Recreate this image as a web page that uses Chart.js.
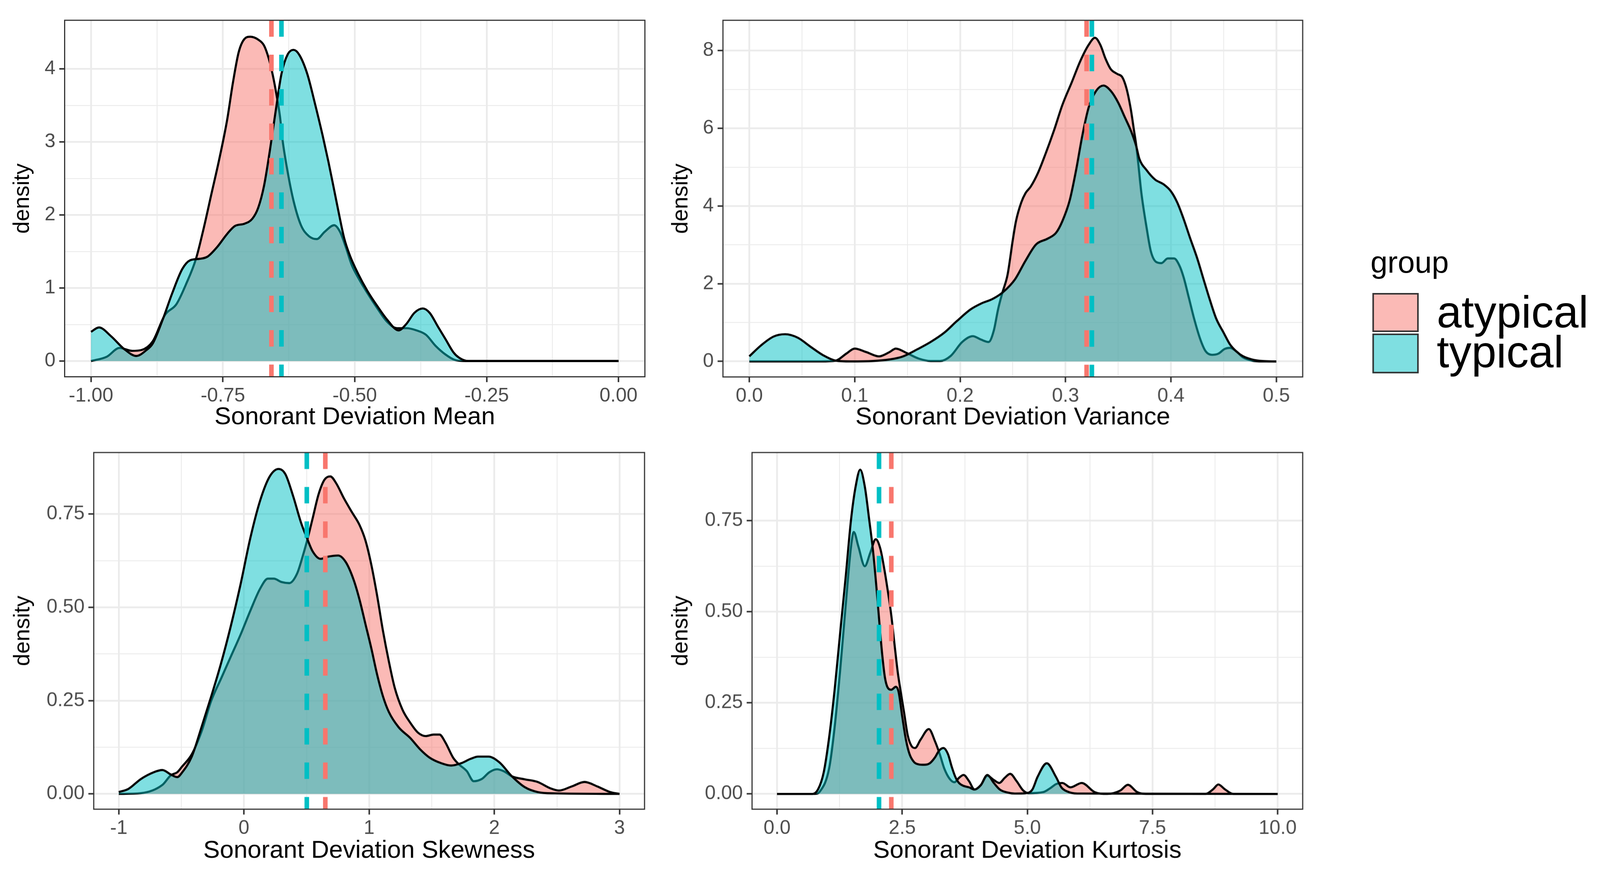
<!DOCTYPE html>
<html>
<head>
<meta charset="utf-8">
<script src="https://cdn.jsdelivr.net/npm/chart.js@4.4.1/dist/chart.umd.min.js"></script>
<style>
  html, body { margin: 0; background: #fff; overflow: hidden; }
  body { font-family: 'Liberation Sans', Arial, sans-serif; }
  #stage { position: absolute; left: 0; top: 0; width: 4183px; height: 2286px; transform-origin: 0 0; }
  canvas { position: absolute; }
  .lg { position: absolute; line-height: 1; white-space: nowrap; color: #000; }
  .key { position: absolute; border: 4px solid #333; box-sizing: border-box; }
</style>
</head>
<body>
<div id="stage">
  <canvas id="pMean" width="1730" height="1130" style="left:0;top:0"></canvas>
  <canvas id="pVar" width="1700" height="1130" style="left:1740px;top:0"></canvas>
  <canvas id="pSkew" width="1730" height="1130" style="left:0;top:1140px"></canvas>
  <canvas id="pKurt" width="1700" height="1130" style="left:1740px;top:1140px"></canvas>

  <div class="lg" style="left:3583px;top:646px;font-size:80px">group</div>
  <div class="key" style="left:3588px;top:766px;width:121px;height:102px;background:rgba(248,118,109,0.5)"></div>
  <div class="key" style="left:3588px;top:872px;width:121px;height:104px;background:rgba(0,191,196,0.5)"></div>
  <div class="lg" style="left:3756px;top:757px;font-size:117px">atypical</div>
  <div class="lg" style="left:3756px;top:861px;font-size:117px">typical</div>
</div>

<script>
// Sonorant Deviation Mean
const meanAtypX = [-1.000, -0.970, -0.946, -0.922, -0.905, -0.883, -0.860, -0.838, -0.820, -0.801, -0.786, -0.772, -0.757,
  -0.742, -0.731, -0.720, -0.709, -0.698, -0.683, -0.672, -0.663, -0.655, -0.648, -0.642, -0.637, -0.627, -0.616, -0.602,
  -0.587, -0.572, -0.557, -0.539, -0.528, -0.517, -0.506, -0.491, -0.476, -0.457, -0.439, -0.420, -0.402, -0.383, -0.365,
  -0.347, -0.328, -0.310, -0.290, 0.000];
const meanAtypY = [0.0, 0.06, 0.18, 0.14, 0.15, 0.27, 0.63, 0.78, 1.05, 1.40, 1.83, 2.28, 2.76,
  3.30, 3.81, 4.23, 4.41, 4.44, 4.40, 4.32, 4.14, 3.90, 3.63, 3.36, 3.03, 2.58, 2.19, 1.86,
  1.71, 1.67, 1.77, 1.86, 1.77, 1.56, 1.32, 1.11, 0.93, 0.72, 0.54, 0.45, 0.45, 0.42, 0.36,
  0.21, 0.09, 0.015, 0.0, 0.0];
const meanTypX = [-1.000, -0.985, -0.962, -0.938, -0.914, -0.895, -0.883, -0.864, -0.846, -0.827, -0.812, -0.794, -0.779,
  -0.761, -0.742, -0.727, -0.709, -0.694, -0.683, -0.672, -0.661, -0.650, -0.639, -0.627, -0.616, -0.605, -0.590, -0.576,
  -0.561, -0.550, -0.539, -0.529, -0.520, -0.509, -0.494, -0.476, -0.457, -0.439, -0.417, -0.402, -0.387, -0.371, -0.358,
  -0.343, -0.328, -0.313, -0.303, -0.285, 0.000];
const meanTypY = [0.40, 0.46, 0.34, 0.17, 0.07, 0.15, 0.24, 0.57, 0.93, 1.26, 1.38, 1.40, 1.43,
  1.56, 1.74, 1.85, 1.88, 1.95, 2.10, 2.40, 2.88, 3.42, 3.93, 4.20, 4.26, 4.19, 3.93, 3.54,
  3.09, 2.73, 2.34, 1.98, 1.68, 1.44, 1.20, 0.96, 0.75, 0.57, 0.42, 0.51, 0.66, 0.72, 0.66,
  0.48, 0.30, 0.12, 0.05, 0.0, 0.0];
const meanMeans = [-0.658, -0.639]; // atypical, typical
const meanXTicks = [-1, -0.75, -0.5, -0.25, 0];
const meanXLabels = ['-1.00', '-0.75', '-0.50', '-0.25', '0.00'];
const meanYTicks = [0, 1, 2, 3, 4];
const meanYLabels = ['0', '1', '2', '3', '4'];

// Sonorant Deviation Variance
const varAtypX = [0.000, 0.068, 0.082, 0.092, 0.100, 0.111, 0.123, 0.133, 0.139, 0.149, 0.161, 0.172, 0.181,
  0.191, 0.202, 0.212, 0.220, 0.227, 0.232, 0.236, 0.240, 0.245, 0.250, 0.253, 0.258, 0.262, 0.267, 0.274,
  0.281, 0.289, 0.297, 0.306, 0.314, 0.322, 0.328, 0.333, 0.338, 0.343, 0.349, 0.354, 0.358, 0.362, 0.365,
  0.367, 0.369, 0.372, 0.377, 0.381, 0.386, 0.391, 0.397, 0.403, 0.408, 0.412, 0.417, 0.422, 0.428, 0.433,
  0.439, 0.445, 0.451, 0.456, 0.462, 0.468, 0.477, 0.487, 0.500];
const varAtypY = [0.0, 0.0, 0.02, 0.20, 0.33, 0.24, 0.13, 0.24, 0.33, 0.22, 0.07, 0.01, 0.01,
  0.14, 0.50, 0.65, 0.56, 0.50, 0.80, 1.34, 1.76, 2.23, 3.13, 3.61, 4.09, 4.33, 4.50, 4.86,
  5.34, 5.94, 6.60, 7.19, 7.73, 8.15, 8.33, 8.15, 7.79, 7.52, 7.40, 7.31, 7.01, 6.48, 5.94,
  5.58, 5.10, 4.33, 3.43, 2.83, 2.56, 2.53, 2.65, 2.65, 2.47, 2.17, 1.64, 1.10, 0.56, 0.26,
  0.17, 0.20, 0.32, 0.35, 0.26, 0.11, 0.02, 0.0, 0.0];
const varTypX = [0.000, 0.011, 0.023, 0.034, 0.046, 0.058, 0.070, 0.082, 0.096, 0.117, 0.133, 0.145, 0.160,
  0.172, 0.185, 0.197, 0.210, 0.220, 0.231, 0.241, 0.252, 0.262, 0.272, 0.283, 0.291, 0.297, 0.304, 0.310,
  0.316, 0.322, 0.329, 0.336, 0.343, 0.350, 0.356, 0.362, 0.367, 0.370, 0.377, 0.385, 0.393, 0.400, 0.406,
  0.412, 0.418, 0.425, 0.431, 0.437, 0.443, 0.450, 0.456, 0.462, 0.468, 0.477, 0.487, 0.500];
const varTypY = [0.13, 0.41, 0.64, 0.70, 0.61, 0.38, 0.16, 0.02, 0.0, 0.01, 0.05, 0.12, 0.32,
  0.50, 0.74, 1.04, 1.34, 1.49, 1.61, 1.79, 2.11, 2.59, 3.01, 3.16, 3.31, 3.61, 4.15, 4.92,
  5.82, 6.54, 6.96, 7.10, 6.96, 6.66, 6.30, 5.94, 5.55, 5.22, 4.92, 4.68, 4.56, 4.38, 4.09,
  3.67, 3.19, 2.65, 2.11, 1.58, 1.10, 0.74, 0.44, 0.26, 0.14, 0.05, 0.01, 0.0];
const varMeans = [0.320, 0.325];
const varXTicks = [0, 0.1, 0.2, 0.3, 0.4, 0.5];
const varXLabels = ['0.0', '0.1', '0.2', '0.3', '0.4', '0.5'];
const varYTicks = [0, 2, 4, 6, 8];
const varYLabels = ['0', '2', '4', '6', '8'];

// Sonorant Deviation Skewness
const skewAtypX = [-1.000, -0.823, -0.652, -0.584, -0.533, -0.495, -0.417, -0.339, -0.261, -0.183, -0.105, -0.027, 0.051,
  0.129, 0.191, 0.238, 0.300, 0.362, 0.425, 0.471, 0.510, 0.549, 0.596, 0.643, 0.690, 0.736, 0.799, 0.861,
  0.923, 0.970, 1.017, 1.063, 1.110, 1.157, 1.204, 1.266, 1.328, 1.391, 1.453, 1.515, 1.562, 1.609, 1.671,
  1.718, 1.780, 1.835, 1.900, 1.960, 2.020, 2.080, 2.141, 2.244, 2.346, 2.448, 2.516, 2.618, 2.721, 2.823,
  2.925, 3.000];
const skewAtypY = [0.0, 0.002, 0.024, 0.050, 0.058, 0.073, 0.106, 0.167, 0.250, 0.309, 0.368, 0.427, 0.491,
  0.550, 0.577, 0.577, 0.568, 0.565, 0.591, 0.639, 0.686, 0.739, 0.803, 0.842, 0.851, 0.833, 0.792, 0.756,
  0.721, 0.680, 0.615, 0.533, 0.438, 0.356, 0.285, 0.226, 0.191, 0.164, 0.155, 0.159, 0.159, 0.138, 0.097,
  0.079, 0.061, 0.034, 0.040, 0.058, 0.066, 0.060, 0.047, 0.039, 0.032, 0.015, 0.009, 0.020, 0.032, 0.020,
  0.005, 0.0];
const skewTypX = [-1.000, -0.925, -0.823, -0.721, -0.652, -0.584, -0.533, -0.495, -0.417, -0.339, -0.261, -0.183, -0.105,
  -0.027, 0.051, 0.129, 0.206, 0.277, 0.331, 0.393, 0.456, 0.503, 0.549, 0.612, 0.674, 0.752, 0.814, 0.876,
  0.923, 0.970, 1.017, 1.063, 1.110, 1.157, 1.235, 1.328, 1.406, 1.484, 1.578, 1.655, 1.733, 1.811, 1.870,
  1.954, 2.039, 2.141, 2.244, 2.346, 2.482, 3.000];
const skewTypY = [0.005, 0.013, 0.040, 0.058, 0.064, 0.052, 0.045, 0.057, 0.100, 0.179, 0.262, 0.350, 0.450,
  0.562, 0.686, 0.786, 0.851, 0.871, 0.857, 0.798, 0.727, 0.686, 0.650, 0.630, 0.636, 0.639, 0.621, 0.574,
  0.521, 0.456, 0.391, 0.321, 0.262, 0.220, 0.179, 0.150, 0.120, 0.097, 0.082, 0.076, 0.082, 0.094, 0.100,
  0.100, 0.085, 0.047, 0.018, 0.005, 0.0015, 0.0];
const skewMeans = [0.650, 0.502];
const skewXTicks = [-1, 0, 1, 2, 3];
const skewXLabels = ['-1', '0', '1', '2', '3'];
const skewYTicks = [0, 0.25, 0.5, 0.75];
const skewYLabels = ['0.00', '0.25', '0.50', '0.75'];

// Sonorant Deviation Kurtosis
const kurtAtypX = [0.000, 0.750, 0.857, 1.040, 1.150, 1.259, 1.369, 1.478, 1.533, 1.624, 1.752, 1.862, 1.971,
  2.063, 2.136, 2.209, 2.282, 2.355, 2.410, 2.465, 2.538, 2.610, 2.684, 2.757, 2.867, 3.031, 3.159, 3.250,
  3.342, 3.450, 3.543, 3.634, 3.725, 3.835, 3.945, 4.070, 4.200, 4.330, 4.440, 4.548, 4.657, 4.785, 4.913,
  5.020, 5.320, 5.450, 5.575, 5.700, 5.860, 6.087, 6.343, 6.598, 6.854, 7.008, 7.195, 7.366, 8.559, 8.713,
  8.815, 8.943, 9.113, 10.000];
const kurtAtypY = [0, 0, 0.007, 0.070, 0.183, 0.337, 0.514, 0.679, 0.719, 0.679, 0.625, 0.662, 0.699,
  0.673, 0.622, 0.560, 0.490, 0.400, 0.335, 0.285, 0.223, 0.161, 0.132, 0.126, 0.149, 0.178, 0.143, 0.109,
  0.069, 0.041, 0.032, 0.044, 0.052, 0.035, 0.012, 0.024, 0.050, 0.038, 0.030, 0.044, 0.055, 0.035, 0.010,
  0.002, 0.005, 0.015, 0.027, 0.030, 0.018, 0.030, 0.005, 0.0, 0.009, 0.025, 0.005, 0.0, 0.0, 0.013,
  0.026, 0.013, 0.0, 0];
const kurtTypX = [0.000, 0.711, 0.820, 0.930, 1.040, 1.150, 1.259, 1.369, 1.478, 1.570, 1.660, 1.752, 1.840,
  1.917, 1.990, 2.045, 2.100, 2.154, 2.209, 2.282, 2.373, 2.428, 2.501, 2.574, 2.647, 2.739, 2.830, 2.940,
  3.050, 3.159, 3.232, 3.323, 3.415, 3.488, 3.560, 3.634, 3.725, 3.835, 3.945, 4.070, 4.200, 4.330, 4.450,
  4.600, 4.750, 4.970, 5.100, 5.205, 5.388, 5.570, 5.680, 5.790, 6.000, 10.000];
const kurtTypY = [0, 0, 0.013, 0.058, 0.155, 0.286, 0.440, 0.593, 0.753, 0.844, 0.890, 0.844, 0.753,
  0.667, 0.559, 0.468, 0.383, 0.320, 0.292, 0.286, 0.294, 0.280, 0.212, 0.149, 0.109, 0.087, 0.081, 0.080,
  0.084, 0.101, 0.118, 0.126, 0.109, 0.075, 0.047, 0.030, 0.022, 0.018, 0.012, 0.024, 0.052, 0.030, 0.012,
  0.004, 0.001, 0.002, 0.012, 0.047, 0.084, 0.047, 0.018, 0.007, 0.001, 0];
const kurtMeans = [2.282, 2.037];
const kurtXTicks = [0, 2.5, 5, 7.5, 10];
const kurtXLabels = ['0.0', '2.5', '5.0', '7.5', '10.0'];
const kurtYTicks = [0, 0.25, 0.5, 0.75];
const kurtYLabels = ['0.00', '0.25', '0.50', '0.75'];

const ATYP_FILL = 'rgba(248,118,109,0.5)';
const TYP_FILL = 'rgba(0,191,196,0.5)';
const ATYP_LINE = '#F8766D';
const TYP_LINE = '#00BFC4';

// the layout is drawn on a 4183 wide stage; fit it to whatever viewport we really get
const SCALE = (document.documentElement.clientWidth || window.innerWidth) / 4183;
document.getElementById('stage').style.transform = 'scale(' + SCALE + ')';
const DPR = SCALE * (window.devicePixelRatio || 1);

Chart.defaults.font.family = "'Liberation Sans', Arial, sans-serif";

const panelBorder = {
  id: 'panelBorder',
  afterDraw(chart) {
    const {ctx, chartArea: a} = chart;
    ctx.save();
    ctx.strokeStyle = '#333333';
    ctx.lineWidth = 3;
    ctx.strokeRect(a.left, a.top, a.right - a.left, a.bottom - a.top);
    ctx.restore();
  }
};

function pts(xs, ys) {
  return xs.map((x, i) => ({x: x, y: ys[i]}));
}

// major ticks plus the ggplot-style minor gridlines half way between them
function withMinor(major) {
  const out = major.map(v => ({value: v}));
  for (let i = 0; i < major.length - 1; i++) {
    out.push({value: (major[i] + major[i + 1]) / 2, minor: true});
  }
  return out.sort((a, b) => a.value - b.value);
}

function axis(p, key) {
  const major = p[key + 'Ticks'];
  const labels = p[key + 'Labels'];
  const isX = key === 'x';
  return {
    type: 'linear',
    min: p[key + 'Min'],
    max: p[key + 'Max'],
    afterBuildTicks: s => { s.ticks = withMinor(major); },
    afterFit: s => { if (isX) s.height = p.xHeight; else s.width = p.yWidth; },
    grid: {
      color: '#EBEBEB',
      lineWidth: c => (c.tick && c.tick.minor ? 2.3 : 4.6),
      tickColor: c => (c.tick && c.tick.minor ? 'rgba(0,0,0,0)' : '#333333'),
      tickWidth: 4,
      tickLength: 14
    },
    border: {display: false},
    ticks: {
      color: '#4D4D4D',
      font: {size: 51},
      padding: isX ? 6 : 10,
      autoSkip: false,
      maxRotation: 0,
      callback: (v, i, ticks) => (ticks[i].minor ? '' : labels[major.indexOf(v)])
    },
    title: {
      display: true,
      text: isX ? p.title : 'density',
      color: '#000',
      font: {size: isX ? 65 : 58},
      padding: isX ? {top: 0, bottom: p.xTitlePad} : {top: p.yTitlePad, bottom: 0}
    }
  };
}

function panel(id, p) {
  const vline = (m, color, order) => ({
    data: [{x: m, y: p.yMax}, {x: m, y: p.yMin}],
    borderColor: color, borderWidth: 12, borderDash: [43, 47], borderCapStyle: 'butt',
    fill: false, pointRadius: 0, order: order
  });
  return new Chart(document.getElementById(id), {
    type: 'line',
    data: {
      datasets: [
        {label: 'atypical', data: pts(p.atypX, p.atypY), backgroundColor: ATYP_FILL, borderColor: '#000',
          borderWidth: 5.5, fill: 'origin', pointRadius: 0, cubicInterpolationMode: 'monotone', order: 4},
        {label: 'typical', data: pts(p.typX, p.typY), backgroundColor: TYP_FILL, borderColor: '#000',
          borderWidth: 5.5, fill: 'origin', pointRadius: 0, cubicInterpolationMode: 'monotone', order: 3},
        vline(p.means[0], ATYP_LINE, 2),
        vline(p.means[1], TYP_LINE, 1)
      ]
    },
    options: {
      responsive: false,
      animation: false,
      devicePixelRatio: DPR,
      events: [],
      layout: {padding: p.pad},
      elements: {line: {borderJoinStyle: 'round'}},
      plugins: {legend: {display: false}, tooltip: {enabled: false},
        filler: {drawTime: 'beforeDatasetDraw'}},
      scales: {x: axis(p, 'x'), y: axis(p, 'y')}
    },
    plugins: [panelBorder]
  });
}

panel('pMean', {
  atypX: meanAtypX, atypY: meanAtypY, typX: meanTypX, typY: meanTypY, means: meanMeans,
  xTicks: meanXTicks, xLabels: meanXLabels, yTicks: meanYTicks, yLabels: meanYLabels,
  xMin: -1.05, xMax: 0.05, yMin: -0.215, yMax: 4.665,
  title: 'Sonorant Deviation Mean', yWidth: 169, xHeight: 145, xTitlePad: 0, yTitlePad: 25,
  pad: {left: 0, top: 53, right: 44, bottom: 0}
});
panel('pVar', {
  atypX: varAtypX, atypY: varAtypY, typX: varTypX, typY: varTypY, means: varMeans,
  xTicks: varXTicks, xLabels: varXLabels, yTicks: varYTicks, yLabels: varYLabels,
  xMin: -0.025, xMax: 0.525, yMin: -0.40, yMax: 8.78,
  title: 'Sonorant Deviation Variance', yWidth: 150, xHeight: 145, xTitlePad: 0, yTitlePad: 6,
  pad: {left: 0, top: 53, right: 35, bottom: 0}
});
panel('pSkew', {
  atypX: skewAtypX, atypY: skewAtypY, typX: skewTypX, typY: skewTypY, means: skewMeans,
  xTicks: skewXTicks, xLabels: skewXLabels, yTicks: skewYTicks, yLabels: skewYLabels,
  xMin: -1.2, xMax: 3.2, yMin: -0.041, yMax: 0.915,
  title: 'Sonorant Deviation Skewness', yWidth: 245, xHeight: 155, xTitlePad: 7, yTitlePad: 26,
  pad: {left: 0, top: 43, right: 45, bottom: 0}
});
panel('pKurt', {
  atypX: kurtAtypX, atypY: kurtAtypY, typX: kurtTypX, typY: kurtTypY, means: kurtMeans,
  xTicks: kurtXTicks, xLabels: kurtXLabels, yTicks: kurtYTicks, yLabels: kurtYLabels,
  xMin: -0.5, xMax: 10.5, yMin: -0.042, yMax: 0.937,
  title: 'Sonorant Deviation Kurtosis', yWidth: 226, xHeight: 155, xTitlePad: 7, yTitlePad: 6,
  pad: {left: 0, top: 43, right: 35, bottom: 0}
});
</script>
</body>
</html>
